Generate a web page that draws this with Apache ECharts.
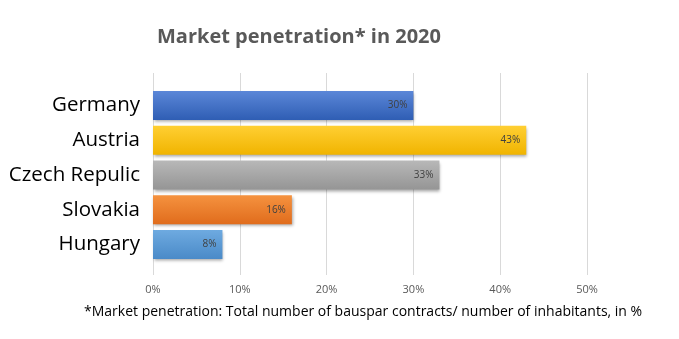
<!DOCTYPE html>
<html><head><meta charset="utf-8">
<script src="https://cdn.jsdelivr.net/npm/echarts@6/dist/echarts.min.js"></script>
<style>html,body{margin:0;padding:0;background:#fff}#c{width:679px;height:339px}</style>
</head><body><div id="c"></div>
<script>
const categories = ['Germany', 'Austria', 'Czech Repulic', 'Slovakia', 'Hungary'];
const values = [30, 43, 33, 16, 8];
const colorsTop = ['#5b87d8', '#ffcf33', '#b8b8b8', '#f5923f', '#6eaae0'];
const colorsBot = ['#2f5eb4', '#f0b400', '#959595', '#e06c1c', '#4a8ac8'];
const xTicks = [0, 10, 20, 30, 40, 50];

const chart = echarts.init(document.getElementById('c'));
chart.setOption({
  animation: false,
  title: {
    text: 'Market penetration* in 2020',
    left: 294, top: 22, textAlign: 'center',
    textStyle: { fontFamily: 'Open Sans', fontSize: 20, fontWeight: 'bold', color: '#595959' }
  },
  graphic: [{
    type: 'text', left: 84, top: 305,
    style: { text: '*Market penetration: Total number of bauspar contracts/ number of inhabitants, in %',
      font: '14px "Open Sans"', fill: '#000' }
  }],
  grid: [
    { left: 153, right: 92, top: 73, bottom: 64 },
    { left: 153, right: 92, top: 88, bottom: 77 }
  ],
  xAxis: [
    { gridIndex: 0, type: 'value', min: 0, max: 50, interval: 10,
      axisLine: { show: false }, axisTick: { show: false },
      splitLine: { lineStyle: { color: '#d9d9d9', width: 1 } },
      axisLabel: { formatter: v => v + '%', color: '#595959', fontFamily: 'Open Sans', fontSize: 11, margin: 9 } },
    { gridIndex: 1, type: 'value', min: 0, max: 50, show: false }
  ],
  yAxis: [
    { gridIndex: 0, type: 'category', data: categories, show: false },
    { gridIndex: 1, type: 'category', data: categories, inverse: true,
      axisLine: { show: false }, axisTick: { show: false },
      axisLabel: { color: '#000', fontFamily: 'Open Sans', fontSize: 20.5, margin: 13 } }
  ],
  series: [{
    type: 'bar', xAxisIndex: 1, yAxisIndex: 1, barWidth: 29,
    data: values.map((v, i) => ({
      value: v,
      itemStyle: {
        color: new echarts.graphic.LinearGradient(0, 0, 0, 1, [
          { offset: 0, color: colorsTop[i] }, { offset: 1, color: colorsBot[i] }
        ]),
        shadowColor: 'rgba(0,0,0,0.35)', shadowBlur: 3, shadowOffsetX: 1, shadowOffsetY: 2
      }
    })),
    label: { show: true, position: 'insideRight', distance: 6, formatter: p => p.value + '%',
      color: '#404040', fontFamily: 'Open Sans', fontSize: 10 }
  }]
});
</script></body></html>
